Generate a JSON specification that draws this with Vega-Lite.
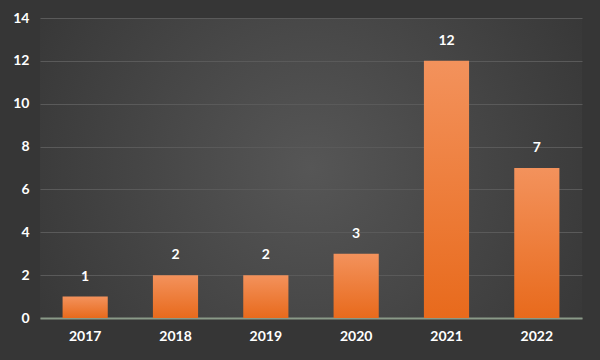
{
  "$schema": "https://vega.github.io/schema/vega-lite/v6.json",
  "width": 542,
  "height": 300,
  "padding": {"left": 40, "top": 18, "right": 18, "bottom": 42},
  "autosize": {"type": "none"},
  "background": "#363636",
  "config": {
    "view": {
      "stroke": null,
      "fill": {"gradient": "radial", "x1": 0.5, "y1": 0.5, "x2": 0.5, "y2": 0.5, "r1": 0, "r2": 0.8,
        "stops": [{"offset": 0, "color": "#565656"}, {"offset": 1, "color": "#2c2c2c"}]}
    },
    "font": "Lato"
  },
  "data": {"values": [
    {"year": "2017", "count": 1},
    {"year": "2018", "count": 2},
    {"year": "2019", "count": 2},
    {"year": "2020", "count": 3},
    {"year": "2021", "count": 12},
    {"year": "2022", "count": 7}
  ]},
  "encoding": {
    "x": {"field": "year", "type": "ordinal", "scale": {"paddingInner": 0.5, "paddingOuter": 0.25},
      "axis": {"title": null, "labelAngle": 0, "labelColor": "#ffffff", "labelFontSize": 14, "labelFontWeight": "bold",
        "ticks": false, "labelPadding": 11, "domainColor": "#8a9a88", "domainWidth": 2}},
    "y": {"field": "count", "type": "quantitative", "scale": {"domain": [0, 14]},
      "axis": {"title": null, "values": [0, 2, 4, 6, 8, 10, 12, 14], "labelColor": "#ffffff", "labelFontSize": 14,
        "labelFontWeight": "bold", "ticks": false, "domain": false, "labelPadding": 11,
        "gridColor": "#5a5a5a", "gridWidth": 1}}
  },
  "layer": [
    {"mark": {"type": "bar", "color": {"gradient": "linear", "x1": 0, "y1": 0, "x2": 0, "y2": 1,
      "stops": [{"offset": 0, "color": "#f3925c"}, {"offset": 1, "color": "#e86a1c"}]}}},
    {"mark": {"type": "text", "dy": -20, "baseline": "middle", "color": "#ffffff", "fontSize": 14, "fontWeight": "bold"},
      "encoding": {"text": {"field": "count", "type": "quantitative"}}}
  ]
}
